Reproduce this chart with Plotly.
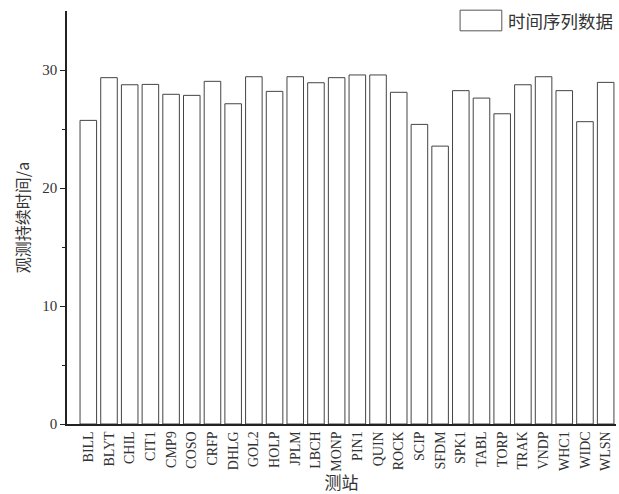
import plotly.graph_objects as go

stations = ["BILL", "BLYT", "CHIL", "CIT1", "CMP9", "COSO", "CRFP", "DHLG", "GOL2", "HOLP",
            "JPLM", "LBCH", "MONP", "PIN1", "QUIN", "ROCK", "SCIP", "SFDM", "SPK1", "TABL",
            "TORP", "TRAK", "VNDP", "WHC1", "WIDC", "WLSN"]
durations = [25.73, 29.35, 28.75, 28.78, 27.94, 27.85, 29.04, 27.14, 29.43, 28.19,
             29.43, 28.92, 29.35, 29.58, 29.58, 28.11, 25.39, 23.55, 28.25, 27.62,
             26.29, 28.75, 29.43, 28.25, 25.62, 28.95]
y_ticks = [0, 10, 20, 30]
y_minor_ticks = [5, 15, 25]
series_name = "时间序列数据"
x_title = "测站"
y_title = "观测持续时间/a"

font_fam = "Liberation Serif, Noto Sans CJK SC, serif"
cjk = "Noto Sans CJK SC"
ink = "#333333"

fig = go.Figure()
fig.add_trace(go.Bar(
    x=list(range(len(stations))), y=durations, name=series_name,
    width=0.8,
    marker=dict(color="white", line=dict(color="#444444", width=1)),
    showlegend=False,
))

# legend drawn as a box + label (matching the wide legend swatch of the reference)
fig.add_shape(type="rect", xref="paper", yref="paper",
              x0=0.716, x1=0.792, y0=0.952, y1=1.002,
              line=dict(color="#555555", width=1), fillcolor="white")
fig.add_annotation(xref="paper", yref="paper", x=0.799, y=0.977,
                   xanchor="left", yanchor="middle", showarrow=False,
                   text=series_name, font=dict(size=17.5, family=cjk, color=ink))

fig.update_layout(
    width=619, height=494,
    paper_bgcolor="white", plot_bgcolor="white",
    margin=dict(l=67, r=3, t=11, b=70),
    font=dict(family=font_fam, color=ink, size=13),
    showlegend=False,
    xaxis=dict(
        range=[-1.03, 25.5], automargin=False,
        tickmode="array", tickvals=list(range(len(stations))), ticktext=stations,
        tickangle=-90, ticks="", showgrid=False, zeroline=False,
        showline=True, linecolor="#222222", linewidth=1.5,
        tickfont=dict(size=14, family=font_fam, color=ink),
        title=dict(text=x_title, font=dict(size=17, family=cjk, color=ink), standoff=4),
    ),
    yaxis=dict(
        range=[0, 35], automargin=False,
        tickmode="array", tickvals=y_ticks,
        ticks="outside", ticklen=5, tickwidth=1.2, tickcolor="#222222",
        minor=dict(tickmode="array", tickvals=y_minor_ticks, ticks="outside", ticklen=3,
                   tickcolor="#222222", showgrid=False),
        showgrid=False, zeroline=False,
        showline=True, linecolor="#222222", linewidth=1.5,
        tickfont=dict(size=15, family=font_fam, color=ink),
        title=dict(text=y_title, font=dict(size=16, family=cjk, color=ink), standoff=9),
    ),
)

fig.write_html("out.html", config={"displayModeBar": False},
               post_script="document.body.style.margin='0px';document.body.style.overflow='hidden';")
